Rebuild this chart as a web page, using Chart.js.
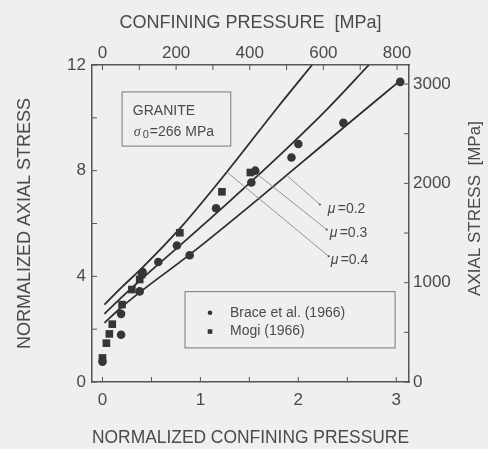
<!DOCTYPE html>
<html>
<head>
<meta charset="utf-8">
<script src="https://cdn.jsdelivr.net/npm/chart.js@4.4.1/dist/chart.umd.min.js"></script>
<style>
  html, body { margin: 0; padding: 0; background: #efefed; }
  #wrap { width: 488px; height: 449px; }
</style>
</head>
<body>
<div id="wrap"><canvas id="granite"></canvas></div>
<script>
const SIGMA0 = 266; // MPa, used to scale the top and right axes

// experimental points (normalized confining pressure, normalized axial stress)
const braceX = [0.0, 0.19, 0.19, 0.38, 0.41, 0.57, 0.76, 0.89, 1.16, 1.52, 1.56, 1.93, 2.0, 2.46, 3.04];
const braceY = [0.77, 1.79, 2.58, 3.43, 4.16, 4.54, 5.17, 4.8, 6.58, 7.55, 8.0, 8.5, 9.01, 9.81, 11.36];
const mogiX = [0.0, 0.04, 0.07, 0.1, 0.2, 0.3, 0.38, 0.4, 0.79, 1.22, 1.51];
const mogiY = [0.91, 1.47, 1.82, 2.19, 2.93, 3.5, 3.88, 4.07, 5.65, 7.2, 7.93];

// model curves for three friction coefficients
const muLabels = ['0.2', '0.3', '0.4'];
const curve02X = [0.02, 0.2, 0.4, 0.9, 1.5, 2.0, 2.5, 3.03];
const curve02Y = [2.24, 2.85, 3.45, 4.85, 6.65, 8.2, 9.75, 11.38];
const curve03X = [0.02, 0.2, 0.4, 0.8, 1.3, 1.8, 2.3, 2.72];
const curve03Y = [2.58, 3.22, 3.9, 5.2, 6.85, 8.55, 10.35, 12.0];
const curve04X = [0.02, 0.2, 0.4, 0.8, 1.27, 1.8, 2.14];
const curve04Y = [2.93, 3.6, 4.3, 5.85, 7.95, 10.45, 12.0];

// axis ticks
const xTickLabels = [0, 1, 2, 3];
const xMinorTicks = [0, 0.5, 1, 1.5, 2, 2.5, 3];
const topTickLabels = [0, 200, 400, 600, 800];
const topMinorTicks = [0, 100, 200, 300, 400, 500, 600, 700, 800];
const yTickLabels = [0, 4, 8, 12];
const yMinorTicks = [0, 2, 4, 6, 8, 10, 12];
const rightTickLabels = [0, 1000, 2000, 3000];
const rightMinorTicks = [0, 500, 1000, 1500, 2000, 2500, 3000];

const X_MIN = -0.107, X_MAX = 3.13, Y_MIN = 0, Y_MAX = 12;

const INK = '#4a4a4a';
const FRAME = '#555555';
const MARK = '#363636';
const BG = '#efefed';

Chart.defaults.font.family = "'Liberation Sans', Arial, sans-serif";
Chart.defaults.color = INK;

const pts = (xs, ys) => xs.map((v, i) => ({ x: v, y: ys[i] }));
const curves = [pts(curve02X, curve02Y), pts(curve03X, curve03Y), pts(curve04X, curve04Y)];

function yOnCurve(c, xv) {
  for (let i = 1; i < c.length; i++) {
    if (xv <= c[i].x) {
      const t = (xv - c[i - 1].x) / (c[i].x - c[i - 1].x);
      return c[i - 1].y + t * (c[i].y - c[i - 1].y);
    }
  }
  return c[c.length - 1].y;
}

const fixed = (list) => (s) => { s.ticks = list.map(v => ({ value: v })); };

function axis(pos, min, max, labels, size, pad, extra) {
  return Object.assign({
    type: 'linear',
    position: pos,
    display: true,
    min: min,
    max: max,
    afterBuildTicks: fixed(labels),
    afterFit: (s) => { if (pos === 'top' || pos === 'bottom') s.height = size; else s.width = size; },
    grid: { display: false, drawTicks: false },
    border: { display: true, color: FRAME, width: 1.5 },
    ticks: { color: INK, font: { size: 17 }, padding: pad, maxRotation: 0, autoSkip: false, callback: v => String(v) }
  }, extra);
}

const decorations = {
  id: 'decorations',
  beforeDraw(chart) {
    const ctx = chart.ctx;
    ctx.save();
    ctx.fillStyle = BG;
    ctx.fillRect(0, 0, chart.width, chart.height);
    ctx.restore();
  },
  afterDatasetsDraw(chart) {
    const { ctx, chartArea: a, scales: { x, y, x2, y2 } } = chart;
    ctx.save();

    // inward tick marks on all four sides
    ctx.strokeStyle = FRAME;
    ctx.lineWidth = 1;
    ctx.beginPath();
    xMinorTicks.forEach(v => { const p = x.getPixelForValue(v); ctx.moveTo(p, a.bottom); ctx.lineTo(p, a.bottom - 5); });
    topMinorTicks.forEach(v => { const p = x2.getPixelForValue(v); ctx.moveTo(p, a.top); ctx.lineTo(p, a.top + 5); });
    yMinorTicks.forEach(v => { const p = y.getPixelForValue(v); ctx.moveTo(a.left, p); ctx.lineTo(a.left + 5, p); });
    rightMinorTicks.forEach(v => { const p = y2.getPixelForValue(v); ctx.moveTo(a.right, p); ctx.lineTo(a.right - 5, p); });
    ctx.stroke();

    // leader lines to the mu labels
    const leaderFrom = [1.88, 1.59, 1.27];
    const leaderTo = [{ x: 2.22, y: 6.72 }, { x: 2.29, y: 5.77 }, { x: 2.31, y: 4.76 }];
    const labelAt = [{ x: 2.30, y: 6.56 }, { x: 2.32, y: 5.62 }, { x: 2.33, y: 4.63 }];
    ctx.strokeStyle = '#8a8a8a';
    ctx.lineWidth = 0.9;
    curves.forEach((c, i) => {
      const sx = x.getPixelForValue(leaderFrom[i]), sy = y.getPixelForValue(yOnCurve(c, leaderFrom[i]));
      const ex = x.getPixelForValue(leaderTo[i].x), ey = y.getPixelForValue(leaderTo[i].y);
      ctx.beginPath(); ctx.moveTo(sx, sy); ctx.lineTo(ex, ey); ctx.stroke();
      ctx.fillStyle = '#555';
      ctx.beginPath(); ctx.arc(ex, ey, 1.1, 0, Math.PI * 2); ctx.fill();

      const lx = x.getPixelForValue(labelAt[i].x), ly = y.getPixelForValue(labelAt[i].y);
      ctx.fillStyle = INK;
      ctx.textBaseline = 'middle';
      ctx.textAlign = 'left';
      ctx.font = "italic 14px 'Liberation Sans', Arial, sans-serif";
      ctx.fillText('\u03bc', lx, ly);
      ctx.font = "14px 'Liberation Sans', Arial, sans-serif";
      ctx.fillText('=' + muLabels[i], lx + 10, ly);
    });

    // sample box
    ctx.strokeStyle = '#777';
    ctx.lineWidth = 1;
    const gx0 = x.getPixelForValue(0.2), gx1 = x.getPixelForValue(1.31);
    const gy0 = y.getPixelForValue(10.98), gy1 = y.getPixelForValue(8.93);
    ctx.fillStyle = BG;
    ctx.fillRect(gx0, gy0, gx1 - gx0, gy1 - gy0);
    ctx.strokeRect(gx0, gy0, gx1 - gx0, gy1 - gy0);
    ctx.fillStyle = INK;
    ctx.font = "14px 'Liberation Sans', Arial, sans-serif";
    const tx = x.getPixelForValue(0.31);
    ctx.fillText('GRANITE', tx, y.getPixelForValue(10.27));
    const sy = y.getPixelForValue(9.46);
    ctx.font = "italic 14px 'Liberation Serif', 'Times New Roman', serif";
    ctx.fillText('\u03c3', tx + 1, sy);
    ctx.font = "11px 'Liberation Sans', Arial, sans-serif";
    ctx.fillText('0', tx + 10, sy + 3);
    ctx.font = "14px 'Liberation Sans', Arial, sans-serif";
    ctx.fillText('=' + SIGMA0 + ' MPa', tx + 17, sy);

    // legend box
    const lx0 = x.getPixelForValue(0.843), lx1 = x.getPixelForValue(2.988);
    const ly0 = y.getPixelForValue(3.42), ly1 = y.getPixelForValue(1.29);
    ctx.strokeStyle = '#777';
    ctx.strokeRect(lx0, ly0, lx1 - lx0, ly1 - ly0);
    const mx = x.getPixelForValue(1.098), textX = x.getPixelForValue(1.302);
    const r1 = y.getPixelForValue(2.62), r2 = y.getPixelForValue(1.91);
    ctx.fillStyle = MARK;
    ctx.beginPath(); ctx.arc(mx, r1, 2.3, 0, Math.PI * 2); ctx.fill();
    ctx.fillRect(mx - 2.3, r2 - 2.3, 4.6, 4.6);
    ctx.fillStyle = INK;
    ctx.font = "14px 'Liberation Sans', Arial, sans-serif";
    ctx.fillText('Brace et al. (1966)', textX, r1);
    ctx.fillText('Mogi (1966)', textX, r2);

    // right axis title, reading upwards
    ctx.save();
    ctx.translate(475, (a.top + a.bottom) / 2 - 15);
    ctx.rotate(-Math.PI / 2);
    ctx.textAlign = 'center';
    ctx.font = "17px 'Liberation Sans', Arial, sans-serif";
    ctx.fillText('AXIAL STRESS  [MPa]', 0, 0);
    ctx.restore();

    ctx.restore();
  }
};

const lineStyle = {
  showLine: true,
  pointRadius: 0,
  borderColor: '#2e2e2e',
  borderWidth: 1.8,
  cubicInterpolationMode: 'monotone',
  fill: false,
  order: 2
};

new Chart(document.getElementById('granite'), {
  type: 'scatter',
  data: {
    datasets: [
      Object.assign({ label: '\u03bc=' + muLabels[0], data: curves[0] }, lineStyle),
      Object.assign({ label: '\u03bc=' + muLabels[1], data: curves[1] }, lineStyle),
      Object.assign({ label: '\u03bc=' + muLabels[2], data: curves[2] }, lineStyle),
      {
        label: 'Brace et al. (1966)', data: pts(braceX, braceY),
        pointStyle: 'circle', pointRadius: 4.3, backgroundColor: MARK, borderColor: MARK, borderWidth: 0, order: 1
      },
      {
        label: 'Mogi (1966)', data: pts(mogiX, mogiY),
        pointStyle: 'rect', pointRadius: 5.4, backgroundColor: MARK, borderColor: MARK, borderWidth: 0, order: 1
      }
    ]
  },
  options: {
    responsive: true,
    maintainAspectRatio: false,
    animation: false,
    devicePixelRatio: 1,
    layout: { padding: 0 },
    plugins: { legend: { display: false }, tooltip: { enabled: false } },
    scales: {
      x: axis('bottom', X_MIN, X_MAX, xTickLabels, 67, 8, {
        title: { display: true, text: 'NORMALIZED CONFINING PRESSURE', color: INK, font: { size: 18 }, padding: { top: 0, bottom: 0 } }
      }),
      x2: axis('top', X_MIN * SIGMA0, X_MAX * SIGMA0, topTickLabels, 65, 1, {
        title: { display: true, text: 'CONFINING PRESSURE  [MPa]', color: INK, font: { size: 18 }, padding: { top: 12, bottom: 0 } }
      }),
      y: axis('left', Y_MIN, Y_MAX, yTickLabels, 92, 6, {
        title: { display: true, text: 'NORMALIZED AXIAL STRESS', color: INK, font: { size: 18 }, padding: { top: 14, bottom: 0 } }
      }),
      y2: axis('right', Y_MIN * SIGMA0, Y_MAX * SIGMA0, rightTickLabels, 79, 4, {})
    }
  },
  plugins: [decorations]
});
</script>
</body>
</html>
